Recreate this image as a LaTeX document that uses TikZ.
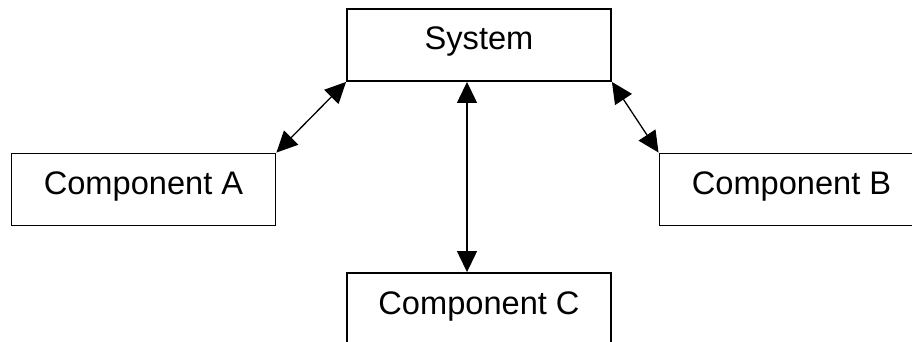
\documentclass[tikz,border=0pt]{standalone}
\usepackage{fontspec}
\setmainfont{Liberation Sans}
\usetikzlibrary{arrows.meta}
\begin{document}
\begin{tikzpicture}[x=1pt,y=-1pt,
  box/.style={draw=black, line width=1.9pt, rectangle, inner sep=0pt,
    minimum width=264pt, minimum height=72pt, text height=41pt, text depth=31pt,
    font=\fontsize{32.6}{39}\selectfont},
  arr/.style={line width=1.3pt, {Triangle[length=21pt,width=20pt]}-{Triangle[length=21pt,width=20pt]}}]
\useasboundingbox (0,0) rectangle (912,342);
\fill[white] (0,0) rectangle (912,342);
\node[box] (sys) at (479,45) {System};
\node[box] (A) at (143.5,189.5) {Component A};
\node[box] (B) at (791.5,189.5) {Component B};
\node[box] (C) at (479,309) {Component C};
\draw[arr] (sys.south west) -- (A.north east);
\draw[arr] (sys.south east) -- (B.north west);
\draw[arr] ([xshift=-12pt]sys.south) -- ([xshift=-12pt]C.north);
\end{tikzpicture}
\end{document}
